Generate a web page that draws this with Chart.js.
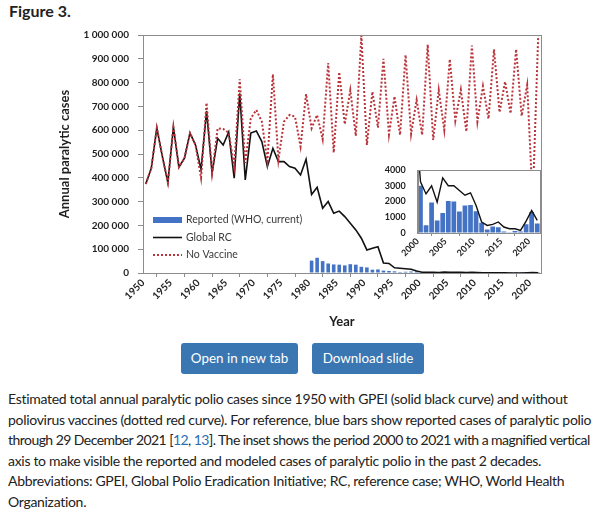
<!DOCTYPE html>
<html>
<head>
<meta charset="utf-8">
<script src="https://cdn.jsdelivr.net/npm/chart.js@4.4.1/dist/chart.umd.min.js"></script>
<style>
  html, body { margin: 0; padding: 0; background: #fff; }
  body { width: 602px; height: 519px; position: relative; overflow: hidden; font-family: Lato, "Open Sans", sans-serif; color: #222; }
  #fig-title { position: absolute; left: 9px; top: 1px; font-weight: bold; font-size: 16px; }
  #main-wrap { position: absolute; left: 0; top: 0; width: 602px; height: 345px; }
  #inset-wrap { position: absolute; left: 360px; top: 160px; width: 190px; height: 110px; }
  .btn { position: absolute; top: 343px; height: 31px; background: #3a76b2; color: #fff; border-radius: 3px; font-size: 13.4px; line-height: 31px; text-align: center; }
  #btn-open { left: 181px; width: 117px; }
  #btn-dl { left: 312px; width: 112px; }
  #caption { position: absolute; left: 8px; top: 389px; font-size: 14px; line-height: 20.6px; white-space: nowrap; letter-spacing: -0.3px; }
  #caption .tight { letter-spacing: -0.55px; }
  #caption a { color: #2a6db5; text-decoration: none; }
</style>
</head>
<body>
<div id="fig-title">Figure 3.</div>
<div id="main-wrap"><canvas id="main-chart"></canvas></div>
<div id="inset-wrap"><canvas id="inset-chart"></canvas></div>
<div class="btn" id="btn-open">Open in new tab</div>
<div class="btn" id="btn-dl">Download slide</div>
<div id="caption">
Estimated total annual paralytic polio cases since 1950 with GPEI (solid black curve) and without<br>
poliovirus vaccines (dotted red curve). For reference, blue bars show reported cases of paralytic polio<br>
<span class="tight">through 29 December 2021 [<a>12</a>, <a>13</a>]. The inset shows the period 2000 to 2021 with a magnified vertical</span><br>
axis to make visible the reported and modeled cases of paralytic polio in the past 2 decades.<br>
Abbreviations: GPEI, Global Polio Eradication Initiative; RC, reference case; WHO, World Health<br>
Organization.
</div>
<script>
// years of the model curves
var years = [1950, 1951, 1952, 1953, 1954, 1955, 1956, 1957, 1958, 1959,
	1960, 1961, 1962, 1963, 1964, 1965, 1966, 1967, 1968, 1969,
	1970, 1971, 1972, 1973, 1974, 1975, 1976, 1977, 1978, 1979,
	1980, 1981, 1982, 1983, 1984, 1985, 1986, 1987, 1988, 1989,
	1990, 1991, 1992, 1993, 1994, 1995, 1996, 1997, 1998, 1999,
	2000, 2001, 2002, 2003, 2004, 2005, 2006, 2007, 2008, 2009,
	2010, 2011, 2012, 2013, 2014, 2015, 2016, 2017, 2018, 2019,
	2020, 2021];

// Global RC (with GPEI)
var globalRC = [374000, 440000, 610000, 490000, 380000, 613000, 445000, 482000, 588000, 538000,
	435000, 680000, 420000, 566000, 538000, 592000, 398000, 755000, 391000, 588000,
	597000, 552000, 447000, 524000, 468000, 468000, 447000, 440000, 412000, 478000,
	330000, 360000, 272000, 300000, 251000, 260000, 237000, 209000, 181000, 146000,
	97000, 104000, 110000, 42000, 40000, 22000, 20000, 18000, 16000, 8000,
	3250, 2480, 3000, 1960, 3500, 3000, 3000, 2700, 2400, 2550,
	1750, 700, 480, 550, 700, 380, 270, 270, 170, 750,
	1430, 800];

// without vaccines
var noVaccine = [374000, 440000, 610000, 490000, 380000, 613000, 445000, 482000, 588000, 538000,
	400000, 715000, 420000, 608000, 605000, 590000, 447000, 814000, 462000, 650000,
	685000, 636000, 470000, 835000, 475000, 636000, 664000, 657000, 531000, 752000,
	608000, 664000, 562000, 882000, 506000, 844000, 625000, 768000, 576000, 998000,
	538000, 762000, 611000, 900000, 582000, 742000, 580000, 916000, 584000, 727000,
	580000, 960000, 559000, 769000, 601000, 898000, 640000, 770000, 594000, 956000,
	636000, 785000, 648000, 940000, 675000, 804000, 670000, 940000, 660000, 790000,
	300000, 1000000];

// reported cases (WHO, current)
var reportedYears = [1980, 1981, 1982, 1983, 1984, 1985, 1986, 1987, 1988, 1989,
	1990, 1991, 1992, 1993, 1994, 1995, 1996, 1997, 1998, 1999,
	2000, 2001, 2002, 2003, 2004, 2005, 2006, 2007, 2008, 2009,
	2010, 2011, 2012, 2013, 2014, 2015, 2016, 2017, 2018, 2019,
	2020, 2021];
var reported = [52000, 64000, 50000, 40000, 36000, 35000, 32000, 37000, 35000, 26000,
	23500, 14000, 15000, 10000, 8600, 7000, 4100, 5200, 6300, 7100,
	3000, 490, 1930, 790, 1270, 2030, 2000, 1370, 1740, 1780,
	1380, 650, 230, 420, 370, 100, 40, 120, 100, 550,
	1330, 600];

// tick labels
var mainYearTicks = [1950, 1955, 1960, 1965, 1970, 1975, 1980, 1985, 1990, 1995, 2000, 2005, 2010, 2015, 2020];
var mainCaseTicks = [0, 100000, 200000, 300000, 400000, 500000, 600000, 700000, 800000, 900000, 1000000];
var insetYearTicks = [2000, 2005, 2010, 2015, 2020];
var insetCaseTicks = [0, 1000, 2000, 3000, 4000];

var axisGrey = '#8c8c8c',
		labelColor = '#1e1e1e',
		barBlue = '#4472c4',
		redDots = '#b8333a';

Chart.defaults.font.family = 'Lato';

// each year sits in the middle of its category, like the original
function points(xs, ys, fromYear) {
	var out = [];
	xs.forEach(function(yr, i) {
		if (fromYear === undefined || yr >= fromYear) out.push({ x: yr + 0.5, y: ys[i] });
	});
	return out;
}

function spaced(v) {
	return String(v).replace(/\B(?=(\d{3})+(?!\d))/g, ' ');
}

// white plot background (inset) and grey frame round the plot area
var frame = {
	id: 'frame',
	beforeDraw: function(chart, args, opts) {
		if (!opts.fill) return;
		var a = chart.chartArea, ctx = chart.ctx;
		ctx.save();
		ctx.fillStyle = opts.fill;
		ctx.fillRect(a.left, a.top, a.width, a.height);
		ctx.restore();
	},
	afterDraw: function(chart) {
		var a = chart.chartArea, ctx = chart.ctx;
		ctx.save();
		ctx.strokeStyle = axisGrey;
		ctx.lineWidth = 1;
		ctx.strokeRect(Math.round(a.left) + 0.5, Math.round(a.top) + 0.5, Math.round(a.width), Math.round(a.height));
		ctx.restore();
	}
};

// legend in the lower left of the plot
var boxLegend = {
	id: 'boxLegend',
	afterDatasetsDraw: function(chart) {
		var a = chart.chartArea, ctx = chart.ctx,
				sets = chart.data.datasets,
				rows = [sets[2], sets[1], sets[0]];
		ctx.save();
		ctx.font = '10.5px Lato';
		ctx.textBaseline = 'middle';
		rows.forEach(function(ds, i) {
			var y = a.top + 185 + i * 17.5,
					x0 = a.left + 10, x1 = a.left + 39;
			if (ds.type === 'bar') {
				ctx.fillStyle = ds.backgroundColor;
				ctx.fillRect(x0, y - 3, x1 - x0, 6);
			} else {
				ctx.strokeStyle = ds.borderColor;
				ctx.lineWidth = ds.borderWidth;
				ctx.setLineDash(ds.borderDash || []);
				ctx.beginPath();
				ctx.moveTo(x0, y);
				ctx.lineTo(x1, y);
				ctx.stroke();
				ctx.setLineDash([]);
			}
			ctx.fillStyle = '#3a3a3a';
			ctx.fillText(ds.label, a.left + 43, y);
		});
		ctx.restore();
	}
};

new Chart(document.getElementById('main-chart'), {
	type: 'line',
	data: {
		datasets: [{
			type: 'line',
			label: 'No Vaccine',
			data: points(years, noVaccine),
			borderColor: redDots,
			borderWidth: 2,
			borderDash: [2, 2],
			pointRadius: 0,
			order: 1
		}, {
			type: 'line',
			label: 'Global RC',
			data: points(years, globalRC),
			borderColor: '#111',
			borderWidth: 1.6,
			pointRadius: 0,
			order: 2
		}, {
			type: 'bar',
			label: 'Reported (WHO, current)',
			data: points(reportedYears, reported),
			backgroundColor: barBlue,
			barPercentage: 0.65,
			categoryPercentage: 1,
			order: 3
		}]
	},
	options: {
		animation: false,
		responsive: true,
		maintainAspectRatio: false,
		layout: { padding: { left: 53, right: 61, top: 35, bottom: 11 } },
		plugins: { legend: { display: false }, tooltip: { enabled: false } },
		scales: {
			x: {
				type: 'linear',
				min: 1950,
				max: 2022,
				offset: false,
				afterBuildTicks: function(s) { s.ticks = mainYearTicks.map(function(v) { return { value: v }; }); },
				afterFit: function(s) { s.height = 61; },
				ticks: {
					minRotation: 45, maxRotation: 45, autoSkip: false, padding: 0,
					color: labelColor, font: { size: 10, weight: 'bold' },
					callback: function(v) { return String(v); }
				},
				grid: { drawOnChartArea: false, tickLength: 4, color: axisGrey },
				border: { color: axisGrey },
				title: { display: true, text: 'Year', color: labelColor, font: { size: 13, weight: 'bold' } }
			},
			y: {
				min: 0,
				max: 1000000,
				afterBuildTicks: function(s) { s.ticks = mainCaseTicks.map(function(v) { return { value: v }; }); },
				afterFit: function(s) { s.width = 90; },
				ticks: {
					padding: 9, color: labelColor, font: { size: 10, weight: 'bold' },
					callback: function(v) { return spaced(v); }
				},
				grid: { drawOnChartArea: false, tickLength: 5, color: axisGrey },
				border: { color: axisGrey },
				title: { display: true, text: 'Annual paralytic cases', color: labelColor, font: { size: 13, weight: 'bold' } }
			}
		}
	},
	plugins: [frame, boxLegend]
});

// inset: 2000-2021 with a magnified vertical axis
new Chart(document.getElementById('inset-chart'), {
	type: 'line',
	data: {
		datasets: [{
			type: 'line',
			label: 'Global RC',
			data: points(years, globalRC, 1999),
			borderColor: '#111',
			borderWidth: 1.4,
			pointRadius: 0,
			order: 1
		}, {
			type: 'bar',
			label: 'Reported (WHO, current)',
			data: points(reportedYears, reported, 2000),
			backgroundColor: barBlue,
			barPercentage: 0.85,
			categoryPercentage: 1,
			order: 2
		}]
	},
	options: {
		animation: false,
		responsive: true,
		maintainAspectRatio: false,
		layout: { padding: { left: 20, right: 10, top: 10, bottom: 5 } },
		plugins: { legend: { display: false }, tooltip: { enabled: false }, frame: { fill: '#fff' } },
		scales: {
			x: {
				type: 'linear',
				min: 2000,
				max: 2022,
				offset: false,
				afterBuildTicks: function(s) { s.ticks = insetYearTicks.map(function(v) { return { value: v }; }); },
				afterFit: function(s) { s.height = 32; },
				ticks: {
					minRotation: 45, maxRotation: 45, autoSkip: false, padding: 0,
					color: labelColor, font: { size: 9, weight: 'bold' },
					callback: function(v) { return String(v); }
				},
				grid: { drawOnChartArea: false, tickLength: 3, color: axisGrey },
				border: { color: axisGrey }
			},
			y: {
				min: 0,
				max: 4000,
				afterBuildTicks: function(s) { s.ticks = insetCaseTicks.map(function(v) { return { value: v }; }); },
				afterFit: function(s) { s.width = 37.7; },
				ticks: {
					padding: 3, color: labelColor, font: { size: 9, weight: 'bold' },
					callback: function(v) { return String(v); }
				},
				grid: { drawOnChartArea: false, tickLength: 9, color: axisGrey, tickColor: 'rgba(0,0,0,0)' },
				border: { color: axisGrey }
			}
		}
	},
	plugins: [frame]
});
</script>
</body>
</html>
